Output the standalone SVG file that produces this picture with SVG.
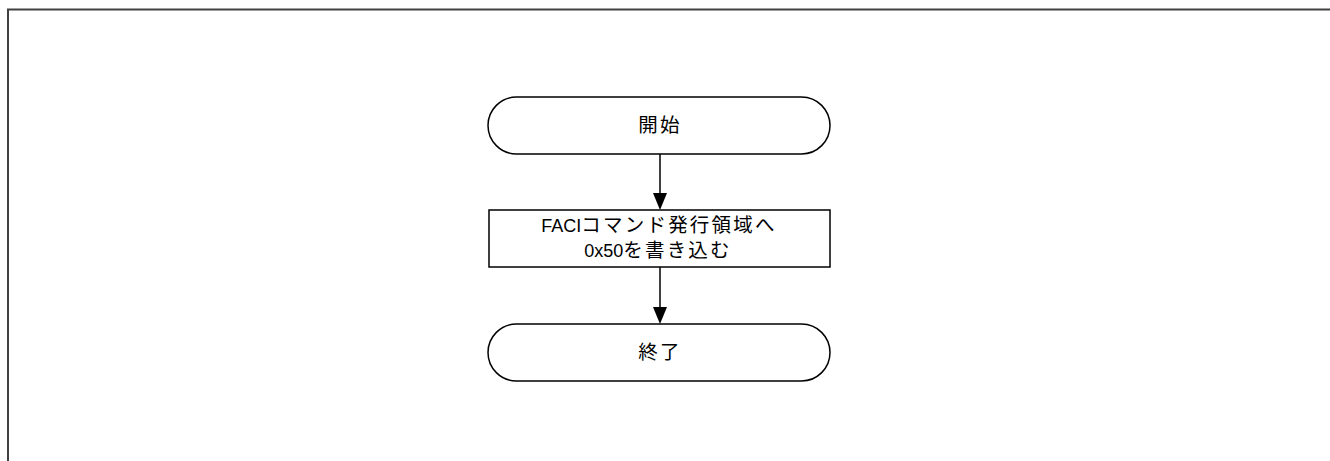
<svg xmlns="http://www.w3.org/2000/svg" width="1330" height="461" viewBox="0 0 1330 461">
<style>
.shape{fill:#fff;stroke:#000;stroke-width:1.5}
.t{font-family:"Liberation Sans","Noto Sans CJK JP",sans-serif;font-size:18px;fill:#000;text-anchor:middle}
.j{font-size:19.5px;letter-spacing:2.2px}
.conn{stroke:#000;stroke-width:1.5;fill:none}
</style>
<rect width="1330" height="461" fill="#fff"/>
<path d="M8,461 V9.5 H1330" fill="none" stroke="#404040" stroke-width="2"/>
<g id="connectors">
<line class="conn" x1="660" y1="154" x2="660" y2="194"/>
<path d="M653,193 L667,193 L660,210 Z" fill="#000"/>
<line class="conn" x1="660" y1="267" x2="660" y2="308"/>
<path d="M653,307 L667,307 L660,324 Z" fill="#000"/>
</g>
<g id="start">
<rect class="shape" x="488" y="97" width="342" height="57" rx="28.5" ry="28.5"/>
<text class="t j" x="660" y="132">開始</text>
</g>
<g id="process">
<rect class="shape" x="489" y="210" width="341" height="57"/>
<text class="t" x="659" y="232">FACI<tspan class="j">コマンド発行領域へ</tspan></text>
<text class="t" x="658" y="257">0x50<tspan class="j">を書き込む</tspan></text>
</g>
<g id="end">
<rect class="shape" x="488" y="324" width="342" height="57" rx="28.5" ry="28.5"/>
<text class="t j" x="660" y="359">終了</text>
</g>
</svg>
